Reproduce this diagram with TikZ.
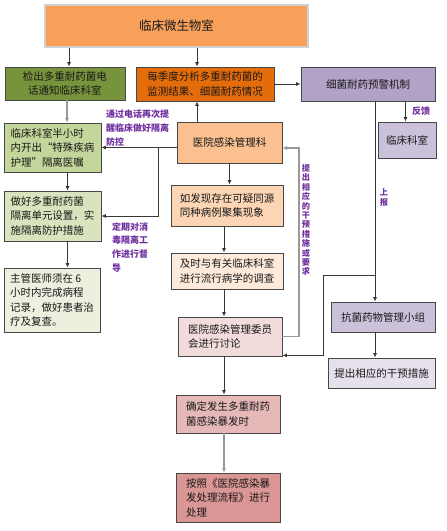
\documentclass[tikz,border=0pt]{standalone}
\usepackage{fontspec}
\setmainfont{Noto Sans CJK SC}
\usetikzlibrary{arrows.meta,calc}
\definecolor{cMicro}{HTML}{F8A05A}
\definecolor{cJian}{HTML}{77933C}
\definecolor{cJidu}{HTML}{E46C0A}
\definecolor{cYuj}{HTML}{B3A2C7}
\definecolor{cLcR}{HTML}{CCC1DA}
\definecolor{cGg}{HTML}{FAC090}
\definecolor{cBan}{HTML}{C3D69B}
\definecolor{cZuo}{HTML}{D7E4BD}
\definecolor{cZhu}{HTML}{EBF1DE}
\definecolor{cRu}{HTML}{FCD5B5}
\definecolor{cJi}{HTML}{FDEADA}
\definecolor{cWei}{HTML}{F2DCDB}
\definecolor{cQue}{HTML}{E6B9B8}
\definecolor{cAn}{HTML}{D99694}
\definecolor{cTi}{HTML}{E6E0EC}
\definecolor{cPurp}{HTML}{7030A0}
\tikzset{
  box/.style={draw=black!72, line width=0.7pt, inner sep=0pt, align=left,
    font=\fontsize{10.5}{14.5}\selectfont, text=black!90},
  arr/.style={draw=black!78, line width=0.8pt, -{Latex[length=4.5pt,width=4pt]}},
  garr/.style={draw=black!40, line width=1.1pt, -{Latex[length=4.5pt,width=4pt]}},
  lbl/.style={text=cPurp, font=\fontsize{9}{13.8}\selectfont\bfseries, align=left, inner sep=0pt},
  vlbl/.style={text=cPurp, font=\fontsize{8.2}{9.4}\selectfont\bfseries, align=center, inner sep=0pt}
}
\begin{document}
\begin{tikzpicture}[x=1pt,y=-1pt]
\useasboundingbox[fill=white] (0,0) rectangle (447,531);

% boxes
\node[box, draw=black!18, line width=1.6pt, fill=cMicro, minimum width=263pt, minimum height=42pt,
  font=\fontsize{12.5}{15}\selectfont] (micro) at (176.5,26) {临床微生物室};
\node[box, fill=cJian, minimum width=120pt, minimum height=33pt, align=center] (jian) at (65,83.5)
  {检出多重耐药菌电\\话通知临床科室};
\node[box, fill=cJidu, minimum width=138pt, minimum height=34pt] (jidu) at (205,84)
  {每季度分析多重耐药菌的\\监测结果、细菌耐药情况};
\node[box, fill=cYuj, minimum width=134pt, minimum height=34pt] (yuj) at (368,84)
  {细菌耐药预警机制};
\node[box, fill=cLcR, minimum width=58pt, minimum height=36pt] (lcr) at (407,140)
  {临床科室};
\node[box, fill=cGg, minimum width=105pt, minimum height=41pt] (gg) at (229.5,142.5)
  {医院感染管理科};
\node[box, fill=cBan, minimum width=97pt, minimum height=49pt] (ban) at (52.5,147.5)
  {临床科室半小时\\内开出“特殊疾病\\护理”隔离医嘱};
\node[box, fill=cZuo, minimum width=97pt, minimum height=50pt] (zuo) at (52.5,216)
  {做好多重耐药菌\\隔离单元设置，实\\施隔离防护措施};
\node[box, fill=cZhu, minimum width=96pt, minimum height=64pt] (zhu) at (52,300)
  {主管医师须在 6\\小时内完成病程\\记录，做好患者治\\疗及复查。};
\node[box, fill=cRu, minimum width=112pt, minimum height=41pt] (ru) at (227,205.5)
  {如发现存在可疑同源\\同种病例聚集现象};
\node[box, fill=cJi, minimum width=112pt, minimum height=36pt] (ji) at (227,271)
  {及时与有关临床科室\\进行流行病学的调查};
\node[box, fill=cWei, minimum width=104pt, minimum height=39pt] (wei) at (230,336.5)
  {医院感染管理委员\\会进行讨论};
\node[box, fill=cQue, minimum width=104pt, minimum height=38pt] (que) at (228,414)
  {确定发生多重耐药\\菌感染暴发时};
\node[box, fill=cAn, minimum width=104pt, minimum height=49pt] (an) at (228,497.5)
  {按照《医院感染暴\\发处理流程》进行\\处理};
\node[box, fill=cLcR, minimum width=104pt, minimum height=30pt] (kj) at (383,317)
  {抗菌药物管理小组};
\node[box, fill=cTi, minimum width=107pt, minimum height=30pt] (ti) at (381.5,373)
  {提出相应的干预措施};

% helper coordinates
\coordinate (br) at (158,147.5);
\coordinate (fbx) at (299,0);
\coordinate (up) at (375,275.5);
\coordinate (upx) at (323,0);

% connectors
\draw[arr] ([xshift=4pt]jian.north |- micro.south) -- ([xshift=4pt]jian.north);
\draw[arr] ([xshift=-8pt]jidu.north |- micro.south) -- ([xshift=-8pt]jidu.north);
\draw[arr] (jidu.east) -- (yuj.west);
\draw[garr] ([xshift=2pt]jian.south) -- ([xshift=2pt]jian.south |- ban.north);
\draw[arr] ([xshift=15pt]ban.south) -- ([xshift=15pt]zuo.north);
\draw[arr] ([xshift=15pt]zuo.south) -- ([xshift=15pt]zuo.south |- zhu.north);
\draw[arr] ([xshift=-8pt]jidu.south |- gg.north) -- ([xshift=-8pt]jidu.south);
\draw[arr] (gg.west |- ban.east) -- (ban.east);
\draw[arr] (br) |- (zuo.east);
\draw[arr] (gg.south) -- (gg.south |- ru.north);
\draw[arr] ([xshift=-3pt]ru.south) -- ([xshift=-3pt]ji.north);
\draw[arr] ([xshift=-3pt]ji.south) -- ([xshift=-3pt]ji.south |- wei.north);
\draw[garr] (wei.east) -- (wei.east -| fbx) |- ([yshift=-5.5pt]gg.east);
\draw[arr] ([xshift=-1.5pt]lcr.north |- yuj.south) -- ([xshift=-1.5pt]lcr.north);
\draw[arr] (up |- yuj.south) -- (up |- kj.north);
\draw[arr] (up) -- (up -| upx) |- ([yshift=1pt]wei.south east);
\draw[arr] ([xshift=-8pt]kj.south) -- ([xshift=-8pt]kj.south |- ti.north);
\draw[arr] ([xshift=-6pt]wei.south) -- ([xshift=-6pt]wei.south |- que.north);
\draw[garr] ([xshift=-4pt]que.south) -- ([xshift=-4pt]an.north);

% labels
\node[lbl, anchor=north west] (l1) at (106,110) {通过电话再次提\\醒临床做好隔离\\防控};
\node[lbl, anchor=north west] (l2) at (112,222) {定期对消\\毒隔离工\\作进行督\\导};
\node[vlbl] (l3) at (306,220) {提\\出\\相\\应\\的\\干\\预\\措\\施\\或\\要\\求};
\node[vlbl] (l4) at (384,197.5) {上\\报};
\node[lbl] (l5) at (421,111) {反馈};
\end{tikzpicture}
\end{document}
